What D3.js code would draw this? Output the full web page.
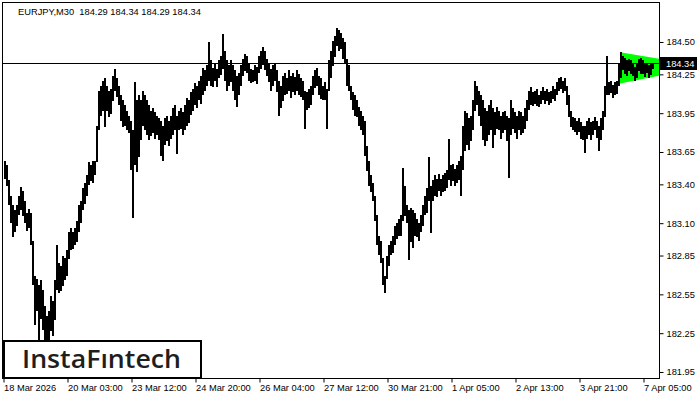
<!DOCTYPE html>
<html>
<head>
<meta charset="utf-8">
<script src="https://cdn.jsdelivr.net/npm/d3@7"></script>
<style>
  body { margin: 0; background: #fff; }
  svg { display: block; font-family: "Liberation Sans", Arial, sans-serif; }
</style>
</head>
<body>
<svg width="700" height="400"></svg>
<script>
// EURJPY M30, one entry per two-pixel column of the chart
const highs = [
  183.58,183.55,183.43,183.31,183.24,183.20,183.24,183.31,183.38,183.35,
  183.27,183.18,183.21,183.18,182.96,182.69,182.67,182.62,182.66,182.58,
  182.46,182.38,182.42,182.54,182.50,182.66,182.93,182.79,182.77,182.85,
  182.83,182.89,183.03,183.06,183.03,183.06,183.12,183.24,183.27,183.37,
  183.41,183.47,183.57,183.55,183.58,183.58,183.85,184.12,184.16,184.20,
  184.22,184.16,184.12,184.14,184.24,184.29,184.22,184.16,184.09,184.05,
  184.01,183.97,183.93,183.89,183.82,184.19,184.05,184.09,184.05,184.12,
  184.09,184.05,184.01,183.97,183.99,183.96,183.93,183.91,183.89,183.85,
  183.91,183.93,183.89,183.93,183.99,184.01,183.93,183.97,183.99,183.96,
  184.01,184.07,184.05,184.11,184.14,184.18,184.16,184.20,184.24,184.30,
  184.28,184.32,184.50,184.36,184.30,184.34,184.29,184.36,184.39,184.56,
  184.43,184.36,184.32,184.36,184.32,184.28,184.24,184.26,184.32,184.37,
  184.41,184.39,184.34,184.29,184.28,184.32,184.31,184.39,184.43,184.46,
  184.43,184.37,184.34,184.29,184.32,184.34,184.28,184.20,184.16,184.24,
  184.26,184.22,184.28,184.24,184.26,184.23,184.28,184.25,184.22,184.20,
  184.12,184.11,184.14,184.16,184.24,184.28,184.30,184.24,184.22,184.16,
  184.19,184.14,184.36,184.43,184.51,184.55,184.61,184.59,184.57,184.53,
  184.50,184.37,184.32,184.16,184.11,184.09,184.05,184.00,183.97,183.93,
  183.89,183.70,183.58,183.47,183.41,183.31,183.16,183.00,182.96,182.83,
  182.69,182.85,182.93,182.96,183.00,183.08,183.10,183.13,183.16,183.53,
  183.39,183.24,183.20,183.22,183.20,183.18,183.13,183.10,183.16,183.24,
  183.31,183.37,183.61,183.39,183.43,183.47,183.44,183.48,183.44,183.47,
  183.49,183.51,183.75,183.55,183.56,183.52,183.55,183.58,183.62,183.85,
  183.97,183.95,183.91,183.93,184.05,184.20,184.16,184.12,184.09,184.05,
  183.99,183.97,184.01,184.05,183.99,183.96,184.00,183.97,183.93,183.96,
  183.97,183.93,183.91,184.05,183.99,183.96,183.93,183.97,183.96,183.93,
  183.99,184.05,184.12,184.15,184.11,184.12,184.14,184.09,184.12,184.15,
  184.12,184.14,184.11,184.12,184.16,184.14,184.19,184.22,184.23,184.20,
  184.22,184.16,184.09,183.97,183.92,183.91,183.89,183.91,183.88,183.85,
  183.85,183.89,183.91,183.88,183.89,183.92,183.89,183.85,183.91,183.97,
  184.16,184.39,184.19,184.20,184.17,184.19,184.20,184.34,184.42,184.39,
  184.38,184.36,184.37,184.36,184.34,184.31,184.33,184.37,184.38,184.36,
  184.33,184.34,184.32,184.34,184.34
];
const lows = [
  183.44,183.39,183.24,183.10,182.99,183.03,183.08,183.16,183.20,183.16,
  183.10,183.04,183.06,182.93,182.62,182.31,182.42,182.19,182.36,182.27,
  182.15,182.12,182.15,182.27,182.23,182.35,182.58,182.56,182.58,182.62,
  182.66,182.69,182.82,182.89,182.90,182.93,182.96,183.03,183.10,183.20,
  183.25,183.31,183.39,183.43,183.41,183.47,183.57,183.82,183.93,183.97,
  183.84,183.97,183.92,183.95,184.05,184.12,184.07,184.01,183.89,183.84,
  183.85,183.82,183.80,183.51,183.14,183.55,183.49,183.61,183.74,183.85,
  183.82,183.78,183.74,183.78,183.80,183.75,183.78,183.74,183.62,183.58,
  183.70,183.74,183.70,183.75,183.78,183.82,183.64,183.82,183.83,183.78,
  183.82,183.85,183.87,183.93,183.97,184.01,183.99,184.05,184.02,184.09,
  184.12,184.16,184.20,184.16,184.15,184.20,184.15,184.22,184.24,184.29,
  184.20,184.12,184.16,184.19,184.12,184.05,184.00,184.09,184.16,184.24,
  184.28,184.26,184.20,184.18,184.19,184.20,184.18,184.26,184.29,184.32,
  184.28,184.24,184.19,184.12,184.16,184.20,184.11,183.93,183.99,184.05,
  184.09,184.10,184.12,184.07,184.11,184.09,184.12,184.09,184.07,184.05,
  183.83,183.97,183.99,184.01,184.09,184.14,184.16,184.09,184.06,184.05,
  184.05,183.83,184.12,184.22,184.32,184.39,184.47,184.43,184.45,184.37,
  184.33,184.16,184.12,184.05,183.97,183.93,183.92,183.85,183.82,183.78,
  183.62,183.51,183.39,183.34,183.27,183.12,182.93,182.85,182.79,182.62,
  182.56,182.67,182.77,182.85,182.87,182.93,182.98,183.00,183.00,183.12,
  183.16,183.10,182.81,182.96,182.91,183.00,182.99,182.96,183.03,183.08,
  183.16,183.18,183.27,183.03,183.27,183.31,183.30,183.35,183.31,183.34,
  183.35,183.37,183.43,183.39,183.43,183.39,183.41,183.43,183.31,183.51,
  183.66,183.70,183.66,183.74,183.82,183.97,184.01,183.93,183.85,183.74,
  183.70,183.74,183.78,183.82,183.68,183.78,183.83,183.82,183.75,183.80,
  183.82,183.74,183.45,183.78,183.83,183.80,183.75,183.82,183.78,183.80,
  183.83,183.89,183.97,184.01,184.00,184.02,184.01,184.00,184.02,184.05,
  184.02,184.05,184.01,184.03,184.06,184.05,184.09,184.12,184.14,184.11,
  184.12,184.01,183.92,183.85,183.82,183.80,183.78,183.80,183.75,183.74,
  183.64,183.75,183.78,183.74,183.78,183.82,183.76,183.66,183.74,183.82,
  183.92,184.09,184.09,184.11,184.07,184.09,184.10,184.16,184.22,184.28,
  184.26,184.24,184.28,184.25,184.24,184.20,184.22,184.28,184.26,184.25,
  184.23,184.26,184.22,184.25,184.29
];

const yTicks = [184.50, 184.25, 183.95, 183.65, 183.40, 183.10, 182.85, 182.55, 182.25, 181.95];
const xTickIdx = [0, 32, 64, 96, 128, 160, 192, 224, 256, 288, 320];
const xTickLabels = ['18 Mar 2026', '20 Mar 03:00', '23 Mar 12:00', '24 Mar 20:00', '26 Mar 04:00',
  '27 Mar 12:00', '30 Mar 21:00', '1 Apr 05:00', '2 Apr 13:00', '3 Apr 21:00', '7 Apr 05:00'];
const lastPrice = 184.34;
const header = 'EURJPY,M30  184.29 184.34 184.29 184.34';

// flag pattern: [start index, end index], upper and lower prices at those ends
const patternIdx = [308.5, 328];
const patternUpper = [184.42, 184.37];
const patternLower = [184.18, 184.24];

const plot = { left: 3, right: 659, top: 3, bottom: 378 };
const fontSize = 9.3;

const svg = d3.select('svg');

const x = d3.scaleLinear().domain([0, 328]).range([plot.left, plot.right]);
const y = d3.scaleLinear().domain([181.95, 184.50]).range([372, 42]);

svg.append('defs').append('clipPath')
    .attr('id', 'clip')
  .append('rect')
    .attr('x', plot.left)
    .attr('y', plot.top)
    .attr('width', plot.right - plot.left)
    .attr('height', plot.bottom - plot.top);

const body = svg.append('g').attr('clip-path', 'url(#clip)');

// green flag
const poly = [
  [patternIdx[0], patternUpper[0]],
  [patternIdx[1], patternUpper[1]],
  [patternIdx[1], patternLower[1]],
  [patternIdx[0], patternLower[0]]
];
body.append('polygon')
  .attr('points', poly.map(p => `${x(p[0])},${y(p[1])}`).join(' '))
  .attr('fill', '#00ff00');

// bars
body.append('g').selectAll('rect')
  .data(highs.map((h, i) => ({ i, h, l: lows[i] })))
  .enter().append('rect')
    .attr('x', d => x(d.i) + 1)
    .attr('y', d => Math.round(y(d.h)))
    .attr('width', 2)
    .attr('height', d => Math.max(1, Math.round(y(d.l) - y(d.h))))
    .attr('fill', '#000')
    .attr('shape-rendering', 'crispEdges');

// current price line
const py = Math.round(y(lastPrice)) + 0.5;
svg.append('line')
  .attr('x1', plot.left).attr('x2', plot.right)
  .attr('y1', py).attr('y2', py)
  .attr('stroke', '#000');

// frame
svg.append('rect')
  .attr('x', plot.left - 0.5)
  .attr('y', plot.top - 0.5)
  .attr('width', plot.right - plot.left + 1)
  .attr('height', plot.bottom - plot.top + 1)
  .attr('fill', 'none')
  .attr('stroke', '#000');

// price axis
const yAxis = svg.append('g')
  .attr('transform', `translate(${plot.right + 0.5},0)`)
  .call(d3.axisRight(y).tickValues(yTicks).tickFormat(d3.format('.2f')).tickSize(4).tickPadding(3));
yAxis.select('.domain').remove();
yAxis.selectAll('text')
  .attr('font-family', '"Liberation Sans", Arial, sans-serif')
  .attr('font-size', fontSize)
  .attr('fill', '#000');
yAxis.selectAll('line').attr('stroke', '#000');

// time axis
const xAxis = svg.append('g')
  .attr('transform', `translate(0.5,${plot.bottom + 0.5})`)
  .call(d3.axisBottom(x).tickValues(xTickIdx).tickFormat((d, i) => xTickLabels[i]).tickSize(4));
xAxis.select('.domain').remove();
xAxis.selectAll('text')
  .attr('text-anchor', 'start')
  .attr('x', 0)
  .attr('y', 6)
  .attr('font-family', '"Liberation Sans", Arial, sans-serif')
  .attr('font-size', fontSize)
  .attr('fill', '#000');
xAxis.selectAll('line').attr('stroke', '#000');

// last price box
svg.append('rect')
  .attr('x', plot.right + 1)
  .attr('y', py - 6.5)
  .attr('width', 37)
  .attr('height', 13)
  .attr('fill', '#000');
svg.append('text')
  .attr('x', plot.right + 7)
  .attr('y', py)
  .attr('dy', '0.35em')
  .attr('font-size', fontSize)
  .attr('fill', '#fff')
  .text(d3.format('.2f')(lastPrice));

// header
svg.append('text')
  .attr('x', 18)
  .attr('y', 15)
  .attr('font-size', fontSize)
  .attr('fill', '#000')
  .style('white-space', 'pre')
  .text(header);

// logo
svg.append('rect')
  .attr('x', 4)
  .attr('y', 341)
  .attr('width', 197)
  .attr('height', 37)
  .attr('fill', '#fff')
  .attr('stroke', '#000')
  .attr('stroke-width', 2);
svg.append('text')
  .attr('x', 22)
  .attr('y', 368)
  .attr('font-family', '"Open Sans", sans-serif')
  .attr('font-size', 25)
  .attr('font-weight', 600)
  .attr('fill', '#1e1e1e')
  .attr('textLength', 159)
  .attr('lengthAdjust', 'spacingAndGlyphs')
  .text('InstaFıntech');
</script>
</body>
</html>
